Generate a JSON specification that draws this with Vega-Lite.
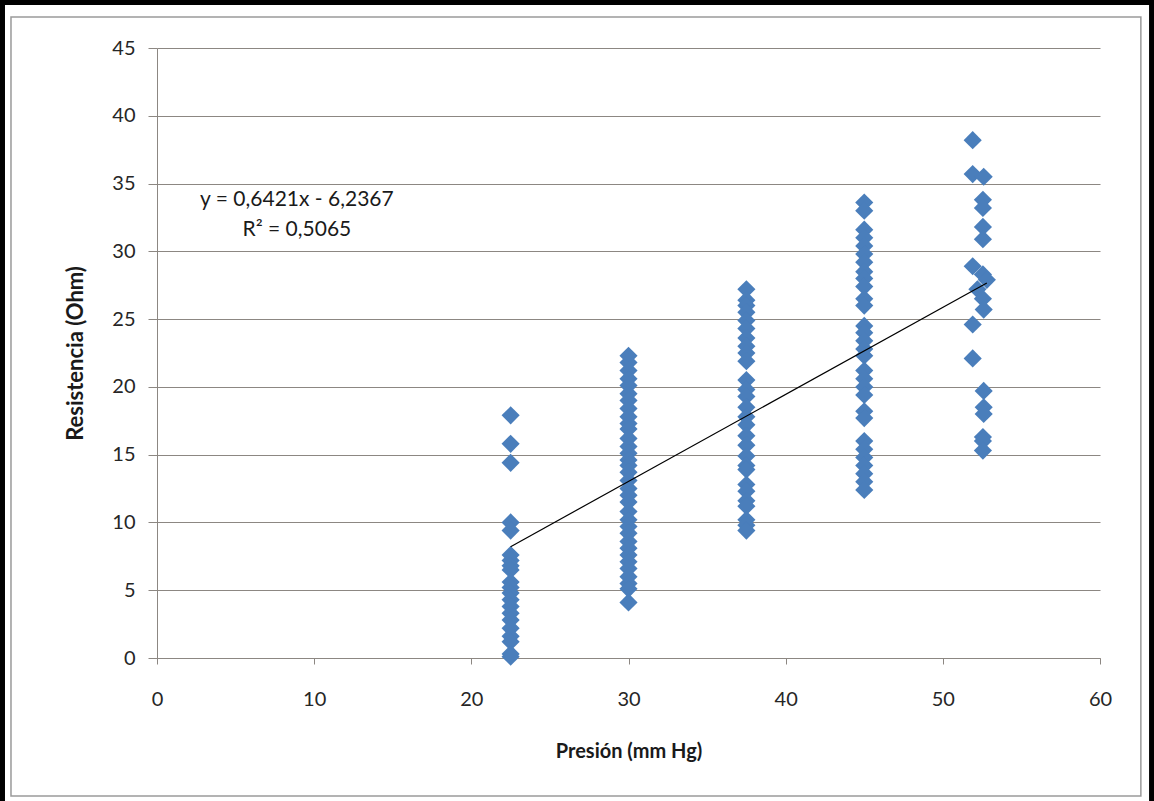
{
  "$schema": "https://vega.github.io/schema/vega-lite/v6.json",
  "width": 943,
  "height": 610,
  "autosize": {"type": "none"},
  "padding": {"left": 157, "top": 48, "right": 54, "bottom": 143},
  "background": "white",
  "data": {"values": [{"one": 1}]},
  "config": {
    "view": {"stroke": null},
    "font": "Lato",
    "axis": {
      "labelFont": "Lato",
      "titleFont": "Lato",
      "labelColor": "#262626",
      "titleColor": "#1a1a1a",
      "domainColor": "#8c8782",
      "tickColor": "#8c8782",
      "gridColor": "#8c8782",
      "labelFontSize": 20,
      "labelFlush": false,
      "titleFontWeight": "bold"
    },
    "axisX": {
      "grid": false,
      "tickSize": 6,
      "labelPadding": 25,
      "titlePadding": 32,
      "titleFontSize": 20
    },
    "axisY": {
      "grid": true,
      "tickSize": 9,
      "labelPadding": 13,
      "titlePadding": 24,
      "titleFontSize": 22
    }
  },
  "datasets": {
    "pts": [
      {"p": 22.5, "r": 17.9}, {"p": 22.5, "r": 15.8}, {"p": 22.5, "r": 14.4},
      {"p": 22.5, "r": 10.0}, {"p": 22.5, "r": 9.4}, {"p": 22.5, "r": 7.6},
      {"p": 22.5, "r": 7.2}, {"p": 22.5, "r": 6.8}, {"p": 22.5, "r": 6.5},
      {"p": 22.5, "r": 5.6}, {"p": 22.5, "r": 5.2}, {"p": 22.5, "r": 4.8},
      {"p": 22.5, "r": 4.3}, {"p": 22.5, "r": 3.8}, {"p": 22.5, "r": 3.3},
      {"p": 22.5, "r": 2.8}, {"p": 22.5, "r": 2.2}, {"p": 22.5, "r": 1.6},
      {"p": 22.5, "r": 1.2}, {"p": 22.5, "r": 0.3}, {"p": 22.5, "r": 0.1},
      {"p": 30, "r": 22.3}, {"p": 30, "r": 21.8}, {"p": 30, "r": 21.2},
      {"p": 30, "r": 20.6}, {"p": 30, "r": 20.1}, {"p": 30, "r": 19.5},
      {"p": 30, "r": 19.0}, {"p": 30, "r": 18.4}, {"p": 30, "r": 17.8},
      {"p": 30, "r": 17.3}, {"p": 30, "r": 16.9}, {"p": 30, "r": 16.2},
      {"p": 30, "r": 15.6}, {"p": 30, "r": 15.1}, {"p": 30, "r": 14.6},
      {"p": 30, "r": 14.2}, {"p": 30, "r": 13.7}, {"p": 30, "r": 13.1},
      {"p": 30, "r": 12.5}, {"p": 30, "r": 12.0}, {"p": 30, "r": 11.5},
      {"p": 30, "r": 10.8}, {"p": 30, "r": 10.2}, {"p": 30, "r": 9.7},
      {"p": 30, "r": 9.2}, {"p": 30, "r": 8.6}, {"p": 30, "r": 8.1},
      {"p": 30, "r": 7.6}, {"p": 30, "r": 7.1}, {"p": 30, "r": 6.6},
      {"p": 30, "r": 6.0}, {"p": 30, "r": 5.5}, {"p": 30, "r": 5.1},
      {"p": 30, "r": 4.1},
      {"p": 37.5, "r": 27.2}, {"p": 37.5, "r": 26.4}, {"p": 37.5, "r": 26.0},
      {"p": 37.5, "r": 25.5}, {"p": 37.5, "r": 24.9}, {"p": 37.5, "r": 24.3},
      {"p": 37.5, "r": 23.6}, {"p": 37.5, "r": 23.0}, {"p": 37.5, "r": 22.5},
      {"p": 37.5, "r": 21.9}, {"p": 37.5, "r": 20.5}, {"p": 37.5, "r": 19.8},
      {"p": 37.5, "r": 19.3}, {"p": 37.5, "r": 18.5}, {"p": 37.5, "r": 17.8},
      {"p": 37.5, "r": 17.2}, {"p": 37.5, "r": 16.4}, {"p": 37.5, "r": 15.7},
      {"p": 37.5, "r": 14.9}, {"p": 37.5, "r": 14.2}, {"p": 37.5, "r": 13.9},
      {"p": 37.5, "r": 12.8}, {"p": 37.5, "r": 12.3}, {"p": 37.5, "r": 11.6},
      {"p": 37.5, "r": 11.2}, {"p": 37.5, "r": 10.2}, {"p": 37.5, "r": 9.8},
      {"p": 37.5, "r": 9.4},
      {"p": 45, "r": 33.6}, {"p": 45, "r": 33.0}, {"p": 45, "r": 31.6},
      {"p": 45, "r": 31.0}, {"p": 45, "r": 30.4}, {"p": 45, "r": 29.8},
      {"p": 45, "r": 29.2}, {"p": 45, "r": 28.5}, {"p": 45, "r": 28.0},
      {"p": 45, "r": 27.4}, {"p": 45, "r": 26.5}, {"p": 45, "r": 26.0},
      {"p": 45, "r": 24.5}, {"p": 45, "r": 24.0}, {"p": 45, "r": 23.4},
      {"p": 45, "r": 22.8}, {"p": 45, "r": 22.3}, {"p": 45, "r": 21.2},
      {"p": 45, "r": 20.6}, {"p": 45, "r": 20.0}, {"p": 45, "r": 19.4},
      {"p": 45, "r": 18.2}, {"p": 45, "r": 17.7}, {"p": 45, "r": 16.0},
      {"p": 45, "r": 15.4}, {"p": 45, "r": 14.8}, {"p": 45, "r": 14.2},
      {"p": 45, "r": 13.6}, {"p": 45, "r": 13.0}, {"p": 45, "r": 12.4},
      {"p": 51.9, "r": 38.2}, {"p": 51.9, "r": 35.7}, {"p": 52.6, "r": 35.5},
      {"p": 52.55, "r": 33.8}, {"p": 52.55, "r": 33.2}, {"p": 52.55, "r": 31.8},
      {"p": 52.55, "r": 30.9}, {"p": 51.9, "r": 28.9}, {"p": 52.55, "r": 28.3},
      {"p": 52.8, "r": 27.9}, {"p": 52.2, "r": 27.2}, {"p": 52.55, "r": 26.5},
      {"p": 52.6, "r": 25.7}, {"p": 51.9, "r": 24.6}, {"p": 51.9, "r": 22.1},
      {"p": 52.6, "r": 19.7}, {"p": 52.6, "r": 18.5}, {"p": 52.6, "r": 18.0},
      {"p": 52.55, "r": 16.3}, {"p": 52.55, "r": 16.0}, {"p": 52.55, "r": 15.3}
    ],
    "trend": [
      {"p": 22.5, "r": 8.21},
      {"p": 52.8, "r": 27.67}
    ]
  },
  "layer": [
    {
      "mark": {"type": "rect", "fill": null, "stroke": "#000000", "strokeWidth": 10},
      "encoding": {
        "x": {"datum": -9.99, "type": "quantitative", "scale": {"domain": [0, 60], "nice": false, "zero": false}, "axis": {"title": "Presión (mm Hg)", "values": [0, 10, 20, 30, 40, 50, 60]}},
        "x2": {"datum": 63.44},
        "y": {"datum": 48.54, "type": "quantitative", "scale": {"domain": [0, 45], "nice": false, "zero": false}, "axis": {"title": "Resistencia (Ohm)", "values": [0, 5, 10, 15, 20, 25, 30, 35, 40, 45]}},
        "y2": {"datum": -10.92}
      }
    },
    {
      "mark": {"type": "rect", "fill": null, "stroke": "#9a9a9a", "strokeWidth": 1.5},
      "encoding": {
        "x": {"datum": -9.29, "type": "quantitative", "scale": {"domain": [0, 60], "nice": false, "zero": false}, "axis": {"title": "Presión (mm Hg)", "values": [0, 10, 20, 30, 40, 50, 60]}},
        "x2": {"datum": 62.6},
        "y": {"datum": 47.29, "type": "quantitative", "scale": {"domain": [0, 45], "nice": false, "zero": false}, "axis": {"title": "Resistencia (Ohm)", "values": [0, 5, 10, 15, 20, 25, 30, 35, 40, 45]}},
        "y2": {"datum": -10.18}
      }
    },
    {
      "data": {"name": "pts"},
      "mark": {"type": "point", "shape": "diamond", "filled": true, "size": 330, "color": "#4A7EBB", "opacity": 1, "strokeWidth": 0},
      "encoding": {
        "x": {"field": "p", "type": "quantitative", "scale": {"domain": [0, 60], "nice": false, "zero": false}, "axis": {"title": "Presión (mm Hg)", "values": [0, 10, 20, 30, 40, 50, 60]}},
        "y": {"field": "r", "type": "quantitative", "scale": {"domain": [0, 45], "nice": false, "zero": false}, "axis": {"title": "Resistencia (Ohm)", "values": [0, 5, 10, 15, 20, 25, 30, 35, 40, 45]}}
      }
    },
    {
      "data": {"name": "trend"},
      "mark": {"type": "line", "color": "#000000", "strokeWidth": 1.2},
      "encoding": {
        "x": {"field": "p", "type": "quantitative", "scale": {"domain": [0, 60], "nice": false, "zero": false}, "axis": {"title": "Presión (mm Hg)", "values": [0, 10, 20, 30, 40, 50, 60]}},
        "y": {"field": "r", "type": "quantitative", "scale": {"domain": [0, 45], "nice": false, "zero": false}, "axis": {"title": "Resistencia (Ohm)", "values": [0, 5, 10, 15, 20, 25, 30, 35, 40, 45]}}
      }
    },
    {
      "mark": {"type": "text", "text": "y = 0,6421x - 6,2367", "fontSize": 21, "font": "Lato", "color": "#1a1a1a", "align": "center", "baseline": "middle"},
      "encoding": {
        "x": {"datum": 8.9, "type": "quantitative", "scale": {"domain": [0, 60], "nice": false, "zero": false}, "axis": {"title": "Presión (mm Hg)", "values": [0, 10, 20, 30, 40, 50, 60]}},
        "y": {"datum": 33.8, "type": "quantitative", "scale": {"domain": [0, 45], "nice": false, "zero": false}, "axis": {"title": "Resistencia (Ohm)", "values": [0, 5, 10, 15, 20, 25, 30, 35, 40, 45]}}
      }
    },
    {
      "mark": {"type": "text", "text": "R² = 0,5065", "fontSize": 21, "font": "Lato", "color": "#1a1a1a", "align": "center", "baseline": "middle"},
      "encoding": {
        "x": {"datum": 8.9, "type": "quantitative", "scale": {"domain": [0, 60], "nice": false, "zero": false}, "axis": {"title": "Presión (mm Hg)", "values": [0, 10, 20, 30, 40, 50, 60]}},
        "y": {"datum": 31.6, "type": "quantitative", "scale": {"domain": [0, 45], "nice": false, "zero": false}, "axis": {"title": "Resistencia (Ohm)", "values": [0, 5, 10, 15, 20, 25, 30, 35, 40, 45]}}
      }
    }
  ]
}
